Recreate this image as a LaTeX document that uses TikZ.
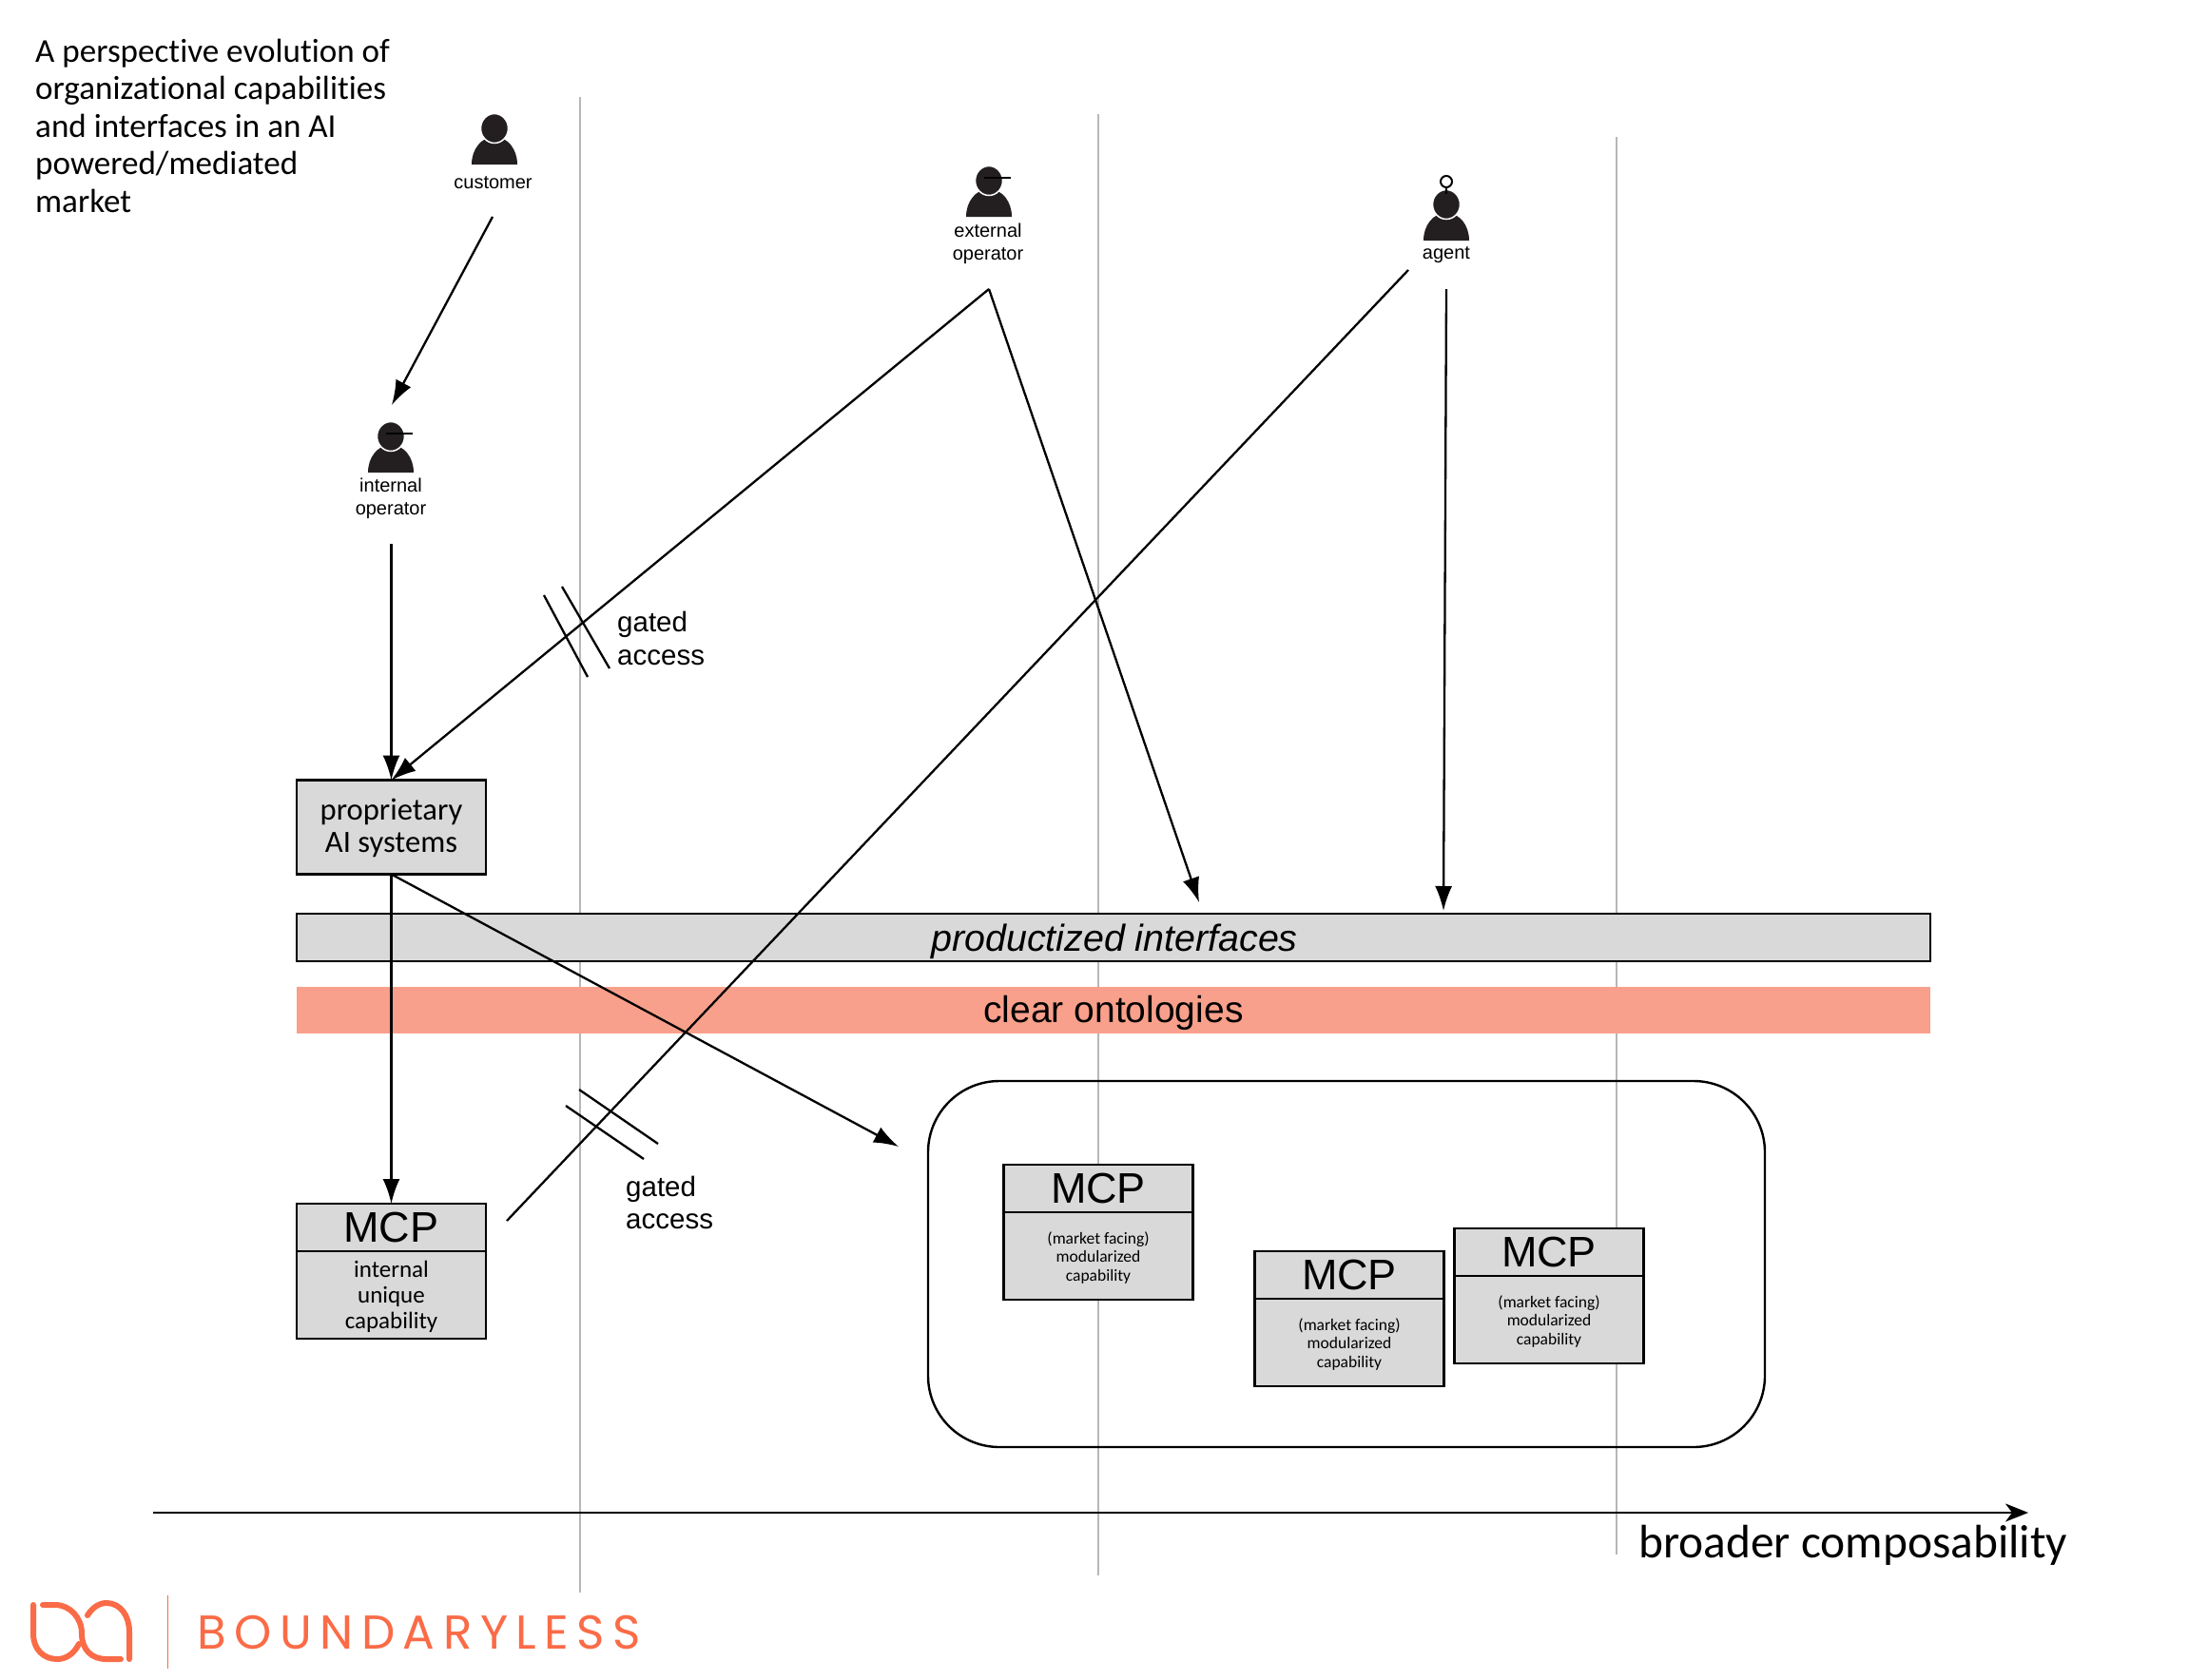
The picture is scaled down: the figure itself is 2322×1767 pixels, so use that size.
\documentclass[tikz,border=0pt]{standalone}
\usepackage{fontspec}
\setmainfont{Carlito}[Ligatures=NoCommon]
\newfontfamily\arial{Liberation Sans}
\newfontfamily\logofont[LetterSpace=17]{Poppins}
\usetikzlibrary{arrows.meta}
\newcommand{\fsz}[2]{\fontsize{#1}{#2}\selectfont}
\definecolor{ink}{HTML}{231F20}
\definecolor{boxgray}{HTML}{D9D9D9}
\definecolor{onto}{HTML}{F8A08B}
\definecolor{logo}{HTML}{FA6B47}
\definecolor{gridgray}{HTML}{B7B7B7}
\tikzset{
  x=1pt,y=-1pt,
  gridline/.style={draw=gridgray,line width=2.6pt},
  conn/.style={draw=black,line width=2.3pt},
  arr/.style={conn,-{Latex[length=26pt,width=18pt]}},
  box/.style={draw=black,line width=2.8pt,fill=boxgray,inner sep=0pt,outer sep=0pt,align=center},
  mcphead/.style={box,font=\arial\fsz{45}{45},minimum width=199pt,minimum height=50pt},
  mcpbody/.style={box,minimum width=199pt,minimum height=92pt},
  barlab/.style={inner sep=0pt,text=black,align=center},
  mcptext/.style={barlab,font=\fsz{17.5}{19.5},yshift=-1.5pt},
  lab/.style={font=\arial\fsz{20}{24},align=center,inner sep=0pt,text=black},
  gatelab/.style={font=\arial\fsz{29.5}{34.5},align=left,inner sep=0pt,anchor=west},
  person/.pic={
    \fill[ink] (-24,0) .. controls (-24,-16) and (-14,-29) .. (0,-29) .. controls (14,-29) and (24,-16) .. (24,0) -- cycle;
    \filldraw[ink,draw=white,line width=1.5pt] (0,-38) ellipse (14.5 and 15.5);
  },
  logoline/.style={draw=logo,line width=6pt,line cap=round},
}
\begin{document}
\begin{tikzpicture}
\useasboundingbox (0,0) rectangle (2322,1767);
\fill[white] (0,0) rectangle (2322,1767);
% grid
\coordinate (g1a) at (610,102); \coordinate (g1b) at (610,1675);
\coordinate (g2a) at (1155,120); \coordinate (g2b) at (1155,1657);
\coordinate (g3a) at (1700,144); \coordinate (g3b) at (1700,1635);
\draw[gridline] (g1a)--(g1b);
\draw[gridline] (g2a)--(g2b);
\draw[gridline] (g3a)--(g3b);
% title
\node[anchor=north west,align=left,inner sep=0pt,font=\fsz{35.1}{39.5}] (title) at (37,40.5) {A perspective evolution of\\organizational capabilities\\and interfaces in an AI\\powered/mediated\\market};
% persons
\pic at (520,173) {person};
\node[lab] (customer) at (518.5,192.5) {customer};
\pic at (411,497) {person};
\draw[black,line width=2.4pt] (406,456)--(434,456);
\node[lab] (intop) at (411,524) {internal\\operator};
\pic at (1040,228) {person};
\draw[black,line width=2.4pt] (1035,187)--(1063,187);
\node[lab] (extop) at (1039,256) {external\\operator};
\pic at (1521,253) {person};
\draw[black,line width=2pt] (1521,198)--(1521,204);
\draw[black,line width=2pt,fill=white] (1521,191) circle (6);
\node[lab] (agent) at (1521,268) {agent};
% bars
\node[box,line width=2.6pt,minimum width=1718pt,minimum height=50pt] (prod) at (1171,986) {};
\node[barlab,font=\arial\itshape\fsz{39.4}{40},yshift=-4.5pt] (prodt) at (1172,986) {productized interfaces};
\node[fill=onto,inner sep=0pt,outer sep=0pt,minimum width=1718pt,minimum height=49pt] (ont) at (1171,1062.5) {};
\node[barlab,font=\arial\fsz{39}{40},yshift=-3pt] (ontt) at (ont.center) {clear ontologies};
% group
\node[draw=black,line width=2.4pt,rounded corners=75pt,minimum width=880pt,minimum height=385pt,inner sep=0pt,outer sep=0pt] (group) at (1416,1329.5) {};
% boxes
\node[box,minimum width=199pt,minimum height=99pt] (prop) at (411.5,870) {};
\node[barlab,font=\fsz{32.6}{34.5},yshift=-1pt] (propt) at (prop.center) {proprietary\\AI systems};
\node[mcpbody,anchor=north] (b0) at (411.5,1316) {};
\node[barlab,font=\fsz{25}{27},yshift=-1.5pt] (t0) at (b0.center) {internal\\unique\\capability};
\node[mcphead,anchor=south] (h0) at (411.5,1316) {\raisebox{-4pt}{MCP}};
\node[mcpbody,anchor=north] (b1) at (1155,1275) {};
\node[mcptext] (t1) at (b1.center) {(market facing)\\modularized\\capability};
\node[mcphead,anchor=south] (h1) at (1155,1275) {\raisebox{-4pt}{MCP}};
\node[mcpbody,anchor=north] (b2) at (1419,1366) {};
\node[mcptext] (t2) at (b2.center) {(market facing)\\modularized\\capability};
\node[mcphead,anchor=south] (h2) at (1419,1366) {MCP};
\node[mcpbody,anchor=north] (b3) at (1629,1342) {};
\node[mcptext] (t3) at (b3.center) {(market facing)\\modularized\\capability};
\node[mcphead,anchor=south] (h3) at (1629,1342) {MCP};
% connector ends
\coordinate (customerS) at (518,228);
\coordinate (intopN) at (412,426);
\coordinate (intopS) at (411.5,572);
\coordinate (extS) at (1040,304);
\coordinate (prodA) at (1261,949);
\coordinate (agentD) at (1481,284);
\coordinate (h0E) at (533,1284);
\coordinate (agentS) at (1521,304);
\coordinate (prodB) at (1518,958);
\coordinate (groupW) at (945,1206);
\draw[arr] (customerS)--(intopN);
\draw[arr] (intopS)--(prop.north);
\draw[arr] (extS)--(prop.north);
\draw[arr] (extS)--(prodA);
\draw[conn] (agentD)--(h0E);
\draw[arr] (agentS)--(prodB);
\draw[arr] (prop.south)--(h0.north);
\draw[arr] (prop.south)--(groupW);
% gates
\coordinate (t1a) at (572,626); \coordinate (t1b) at (618,712);
\coordinate (t2a) at (591,617); \coordinate (t2b) at (641,703);
\coordinate (t3a) at (595,1163); \coordinate (t3b) at (677,1219);
\coordinate (t4a) at (609,1146); \coordinate (t4b) at (692,1203);
\draw[conn] (t1a)--(t1b);
\draw[conn] (t2a)--(t2b);
\draw[conn] (t3a)--(t3b);
\draw[conn] (t4a)--(t4b);
\node[gatelab] (g1) at (649,671.5) {gated\\access};
\node[gatelab] (g2) at (658,1265) {gated\\access};
% axis
\coordinate (axA) at (161,1591); \coordinate (axB) at (2133,1591);
\draw[conn,-{Stealth[length=24pt,width=19pt,inset=7pt]}] (axA)--(axB);
\node[anchor=west,inner sep=0pt,font=\fsz{49.4}{50}] (axl) at (1723,1625) {broader composability};
% logo
\draw[logoline] (35,1688) -- (35,1718) .. controls (35,1735) and (46,1745) .. (60,1745) .. controls (70,1745) and (78,1739) .. (83,1729);
\draw[logoline] (45,1688) -- (58,1688) .. controls (74,1688) and (86,1702) .. (86,1718) .. controls (86,1735) and (96,1745) .. (112,1745) -- (127,1745);
\draw[logoline] (92,1699) .. controls (97,1691) and (104,1686) .. (112,1686) .. controls (127,1686) and (136,1700) .. (136,1716) -- (136,1745);
\draw[draw=logo,line width=1pt] (176,1678)--(176,1755);
\node[anchor=west,inner sep=0pt,text=logo,font=\logofont\fsz{50}{50}] (brand) at (207,1717) {BOUNDARYLESS};
\end{tikzpicture}
\end{document}
